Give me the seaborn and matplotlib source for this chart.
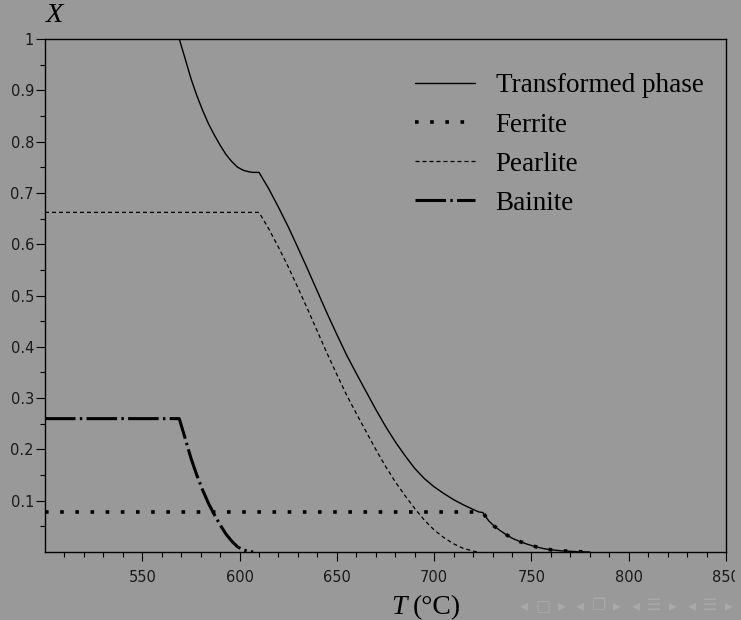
import matplotlib
matplotlib.use("Agg")
import matplotlib.pyplot as plt
from matplotlib.patches import Rectangle
from matplotlib.ticker import FixedLocator, FuncFormatter
import pandas as pd
import seaborn as sns

# Phase fractions X versus temperature T (°C) during cooling
temp_transformed = [500, 569, 572, 575, 578, 581, 584, 587, 590, 593, 596, 599, 602,
                    605, 607, 610, 615, 620, 625, 630, 635, 640, 645, 650, 655, 660,
                    665, 670, 675, 680, 685, 690, 695, 700, 705, 710, 715, 720, 723,
                    725, 728, 731, 734, 737, 740, 744, 748, 752, 756, 760, 765, 770,
                    775, 780]
frac_transformed = [1.0, 1.0, 0.962, 0.923, 0.890, 0.861, 0.835, 0.813, 0.793, 0.775,
                    0.761, 0.750, 0.744, 0.741, 0.740, 0.740, 0.708, 0.672, 0.634,
                    0.593, 0.551, 0.508, 0.465, 0.424, 0.384, 0.348, 0.313, 0.278,
                    0.245, 0.215, 0.188, 0.163, 0.143, 0.127, 0.114, 0.102, 0.092,
                    0.083, 0.078, 0.077, 0.061, 0.050, 0.0416, 0.034, 0.027, 0.0205,
                    0.015, 0.0105, 0.0068, 0.0043, 0.0024, 0.0013, 0.0005, 0.0]

temp_ferrite = [500, 724, 725, 728, 731, 734, 737, 740, 744, 748, 752, 756, 760, 765,
                770, 775, 780]
frac_ferrite = [0.078, 0.078, 0.077, 0.061, 0.050, 0.0416, 0.034, 0.027, 0.0205, 0.015,
                0.0105, 0.0068, 0.0043, 0.0024, 0.0013, 0.0005, 0.0]

temp_pearlite = [500, 610, 615, 620, 625, 630, 635, 640, 645, 650, 655, 660, 665, 670,
                 675, 680, 685, 690, 695, 700, 705, 710, 715, 720, 722]
frac_pearlite = [0.662, 0.662, 0.630, 0.594, 0.556, 0.515, 0.473, 0.430, 0.387, 0.346,
                 0.306, 0.270, 0.235, 0.200, 0.167, 0.137, 0.110, 0.085, 0.062, 0.043,
                 0.028, 0.016, 0.007, 0.002, 0.0]

temp_bainite = [500, 569, 572, 575, 578, 581, 584, 587, 590, 593, 596, 599, 602, 605, 607]
frac_bainite = [0.26, 0.26, 0.222, 0.183, 0.150, 0.121, 0.095, 0.073, 0.053, 0.035,
                0.021, 0.010, 0.004, 0.001, 0.0]

x_major = [550, 600, 650, 700, 750, 800, 850]
x_minor = list(range(510, 850, 10))
y_major = [0.1, 0.2, 0.3, 0.4, 0.5, 0.6, 0.7, 0.8, 0.9, 1.0]
y_minor = [0.05, 0.15, 0.25, 0.35, 0.45, 0.55, 0.65, 0.75, 0.85, 0.95]

BG = "#999999"
W, H = 741, 620

sns.set_theme(style="ticks")
plt.rcParams["font.family"] = ["DejaVu Sans"]
plt.rcParams["axes.edgecolor"] = "black"

fig = plt.figure(figsize=(W / 100, H / 100), dpi=100, facecolor=BG)
ax = fig.add_axes([45 / W, 1 - 552 / H, (726 - 45) / W, (552 - 39) / H])
ax.set_facecolor(BG)

series = [
    ("Transformed phase", temp_transformed, frac_transformed,
     dict(lw=1.0, linestyle="-")),
    ("Ferrite", temp_ferrite, frac_ferrite,
     dict(lw=2.6, linestyle=(0, (1, 3.2)))),
    ("Pearlite", temp_pearlite, frac_pearlite,
     dict(lw=0.9, linestyle=(0, (3.2, 2.4)))),
    ("Bainite", temp_bainite, frac_bainite,
     dict(lw=2.2, linestyle=(0, (10, 1.4, 0.8, 1.4)))),
]
for name, t, x, style in series:
    df = pd.DataFrame({"T": t, "X": x})
    sns.lineplot(data=df, x="T", y="X", ax=ax, color="black", label=name,
                 clip_on=True, **style)

ax.set_xlim(500, 850)
ax.set_ylim(0, 1)
ax.set_xlabel("")
ax.set_ylabel("")

ax.xaxis.set_major_locator(FixedLocator(x_major))
ax.xaxis.set_minor_locator(FixedLocator(x_minor))
ax.yaxis.set_major_locator(FixedLocator(y_major))
ax.yaxis.set_minor_locator(FixedLocator(y_minor))
ax.yaxis.set_major_formatter(FuncFormatter(lambda v, p: f"{v:g}"))

for s in ax.spines.values():
    s.set_visible(True)
    s.set_color("black")
    s.set_linewidth(1.0)

ax.tick_params(which="both", direction="out", color="black", width=0.8,
               labelcolor="#1a1a1a", labelsize=10.5, top=False, right=False,
               bottom=True, left=True)
ax.tick_params(which="major", length=6.5)
ax.tick_params(which="minor", length=3.6)
ax.tick_params(axis="y", which="major", pad=1.5)
ax.tick_params(axis="x", which="major", pad=6.5)

serif = "Liberation Serif"
leg = ax.legend(loc="upper left", bbox_to_anchor=(415 / W, 1 - 73.5 / H),
                bbox_transform=fig.transFigure, frameon=False,
                prop={"family": serif, "size": 19.5}, handlelength=2.2,
                handletextpad=0.78, labelspacing=0.52, borderpad=0,
                borderaxespad=0)
for txt in leg.get_texts():
    txt.set_color("black")

# axis titles
fig.text(55 / W, 1 - 15 / H, "X", family=serif, style="italic", size=20.5,
         ha="center", va="center", color="black")
fig.text(391 / W, 1 - 614.5 / H, "T", family=serif, style="italic", size=20,
         ha="left", va="baseline", color="black")
fig.text(413 / W, 1 - 614.5 / H, "(°C)", family=serif, size=20,
         ha="left", va="baseline", color="black")

# trim the last tick label at the slide edge
fig.add_artist(Rectangle((735 / W, 1 - 592 / H), 6 / W, 32 / H,
                         transform=fig.transFigure, facecolor=BG,
                         edgecolor="none", zorder=10))

# slide navigation symbols
nav = [(524, "◂"), (543, "□"), (562, "▸"), (580, "◂"), (598, "❐"), (617, "▸"),
       (636, "◂"), (654, "☰"), (673, "▸"), (692, "◂"), (710, "☰"), (729, "▸")]
for xp, ch in nav:
    fig.text(xp / W, 1 - 605.5 / H, ch, ha="center", va="center",
             size=11.5, color="#a9a9a9", zorder=11)

fig.savefig("out.png", dpi=100, facecolor=BG)
